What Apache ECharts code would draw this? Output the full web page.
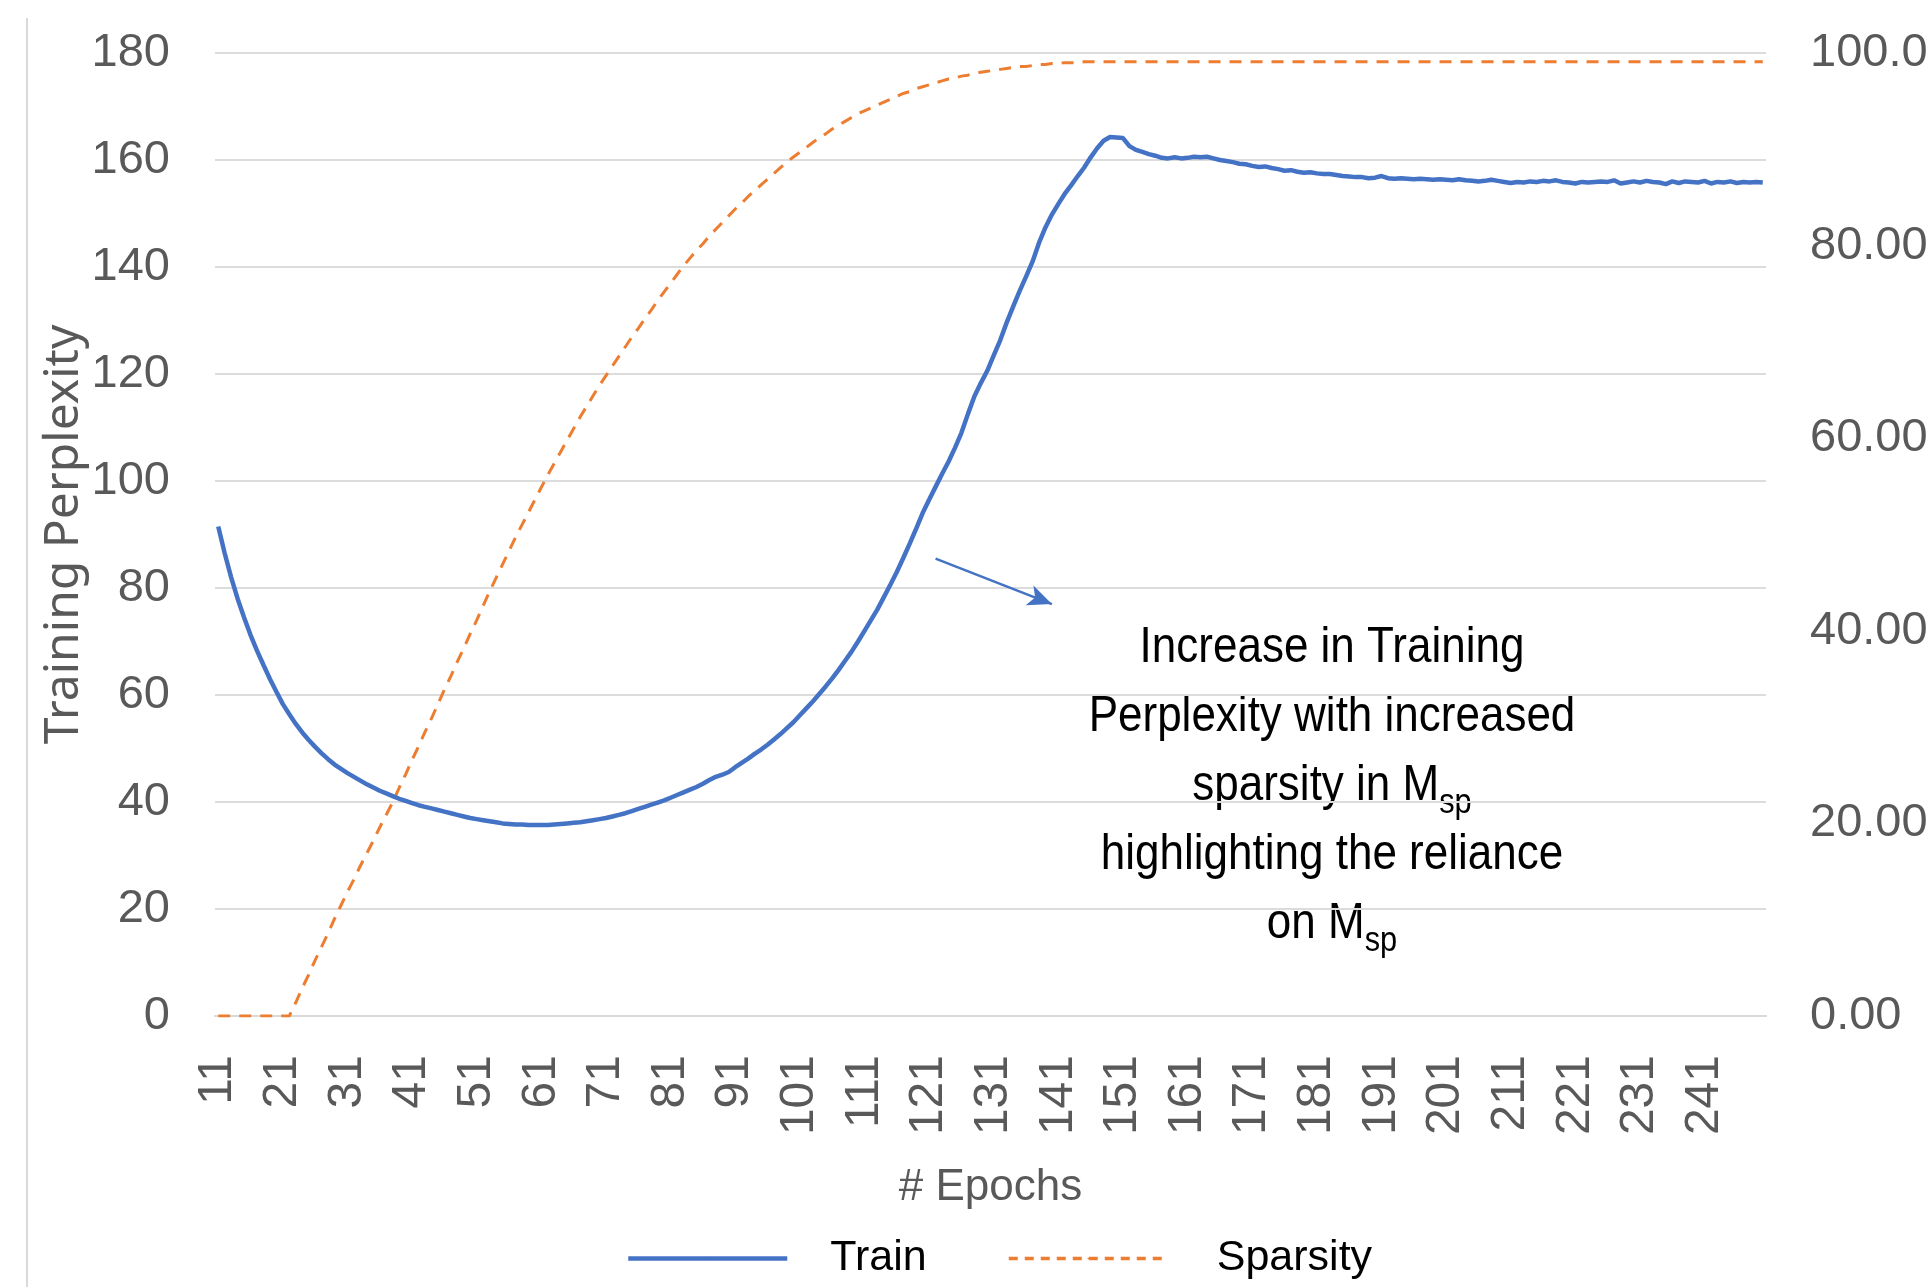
<!DOCTYPE html>
<html>
<head>
<meta charset="utf-8">
<script src="https://cdn.jsdelivr.net/npm/echarts@6/dist/echarts.min.js"></script>
<style>
html,body{margin:0;padding:0;background:#fff;overflow:hidden;}
#chart{width:1927px;height:1287px;}
</style>
</head>
<body>
<div id="chart"></div>
<script>
// Epochs 11..250 (one category per epoch)
const firstEpoch = 11;
const lastEpoch = 250;
const epochs = [];
for (let e = firstEpoch; e <= lastEpoch; e++) epochs.push(String(e));

// Training perplexity (left axis), epochs 11..250, rows of 10
const train = [
  91.5, 86.5, 82.0, 78.0, 74.5, 71.2, 68.3, 65.6, 63.0, 60.6,
  58.3, 56.4, 54.6, 53.0, 51.6, 50.3, 49.1, 48.0, 47.0, 46.2,
  45.4, 44.7, 44.0, 43.3, 42.7, 42.1, 41.6, 41.1, 40.6, 40.2,
  39.8, 39.4, 39.1, 38.8, 38.5, 38.2, 37.9, 37.6, 37.3, 37.0,
  36.8, 36.6, 36.4, 36.2, 36.0, 35.9, 35.8, 35.8, 35.7, 35.7,
  35.7, 35.7, 35.8, 35.9, 36.0, 36.1, 36.2, 36.4, 36.6, 36.8,
  37.0, 37.3, 37.6, 37.9, 38.3, 38.7, 39.1, 39.5, 39.9, 40.3,
  40.8, 41.3, 41.8, 42.3, 42.8, 43.4, 44.1, 44.7, 45.1, 45.6,
  46.5, 47.3, 48.1, 49.0, 49.8, 50.7, 51.7, 52.7, 53.8, 54.9,
  56.2, 57.5, 58.8, 60.2, 61.6, 63.1, 64.7, 66.4, 68.1, 70.0,
  72.0, 74.0, 76.0, 78.3, 80.6, 83.0, 85.6, 88.3, 91.1, 94.0,
  96.5, 98.9, 101.3, 103.6, 106.2, 109.0, 112.5, 115.8, 118.3, 120.6,
  123.5, 126.3, 129.6, 132.6, 135.5, 138.2, 141.0, 144.5, 147.4, 149.8,
  151.8, 153.7, 155.3, 157.0, 158.6, 160.5, 162.2, 163.6, 164.3, 164.2,
  164.1, 162.6, 161.9, 161.5, 161.1, 160.8, 160.4, 160.3, 160.5, 160.3,
  160.4, 160.6, 160.5, 160.6, 160.3, 160.0, 159.8, 159.6, 159.3, 159.2,
  158.9, 158.7, 158.8, 158.5, 158.3, 158.0, 158.1, 157.8, 157.6, 157.7,
  157.5, 157.4, 157.4, 157.2, 157.0, 156.9, 156.8, 156.8, 156.6, 156.7,
  157.0, 156.6, 156.5, 156.6, 156.5, 156.4, 156.5, 156.4, 156.3, 156.4,
  156.3, 156.2, 156.4, 156.2, 156.1, 156.0, 156.1, 156.3, 156.1, 155.9,
  155.7, 155.9, 155.8, 156.0, 155.9, 156.1, 156.0, 156.2, 155.9, 155.8,
  155.6, 155.9, 155.8, 155.9, 156.0, 155.9, 156.2, 155.6, 155.8, 156.0,
  155.8, 156.1, 155.9, 155.8, 155.5, 156.0, 155.7, 156.0, 155.9, 155.8,
  156.1, 155.6, 155.9, 155.8, 156.0, 155.7, 155.9, 155.8, 155.9, 155.8
];

// Sparsity (right axis, %), epochs 11..250, rows of 10
const sparsity = [
  0, 0, 0, 0, 0, 0, 0, 0, 0, 0,
  0, 0, 1.4, 2.9, 4.3, 5.8, 7.2, 8.6, 10.1, 11.5,
  12.9, 14.2, 15.6, 16.9, 18.2, 19.6, 20.9, 22.2, 23.7, 25.1,
  26.6, 28.0, 29.5, 30.9, 32.4, 33.9, 35.3, 36.8, 38.2, 39.7,
  41.1, 42.6, 44.1, 45.5, 46.9, 48.3, 49.7, 51.0, 52.3, 53.6,
  54.9, 56.2, 57.4, 58.6, 59.8, 61.0, 62.2, 63.3, 64.4, 65.5,
  66.5, 67.5, 68.5, 69.5, 70.5, 71.4, 72.4, 73.3, 74.3, 75.2,
  76.1, 77.0, 77.9, 78.7, 79.5, 80.2, 81.0, 81.7, 82.4, 83.1,
  83.8, 84.4, 85.1, 85.7, 86.3, 86.9, 87.5, 88.1, 88.7, 89.2,
  89.7, 90.2, 90.7, 91.2, 91.6, 92.1, 92.5, 92.9, 93.3, 93.7,
  94.0, 94.3, 94.6, 94.9, 95.2, 95.5, 95.8, 96.0, 96.3, 96.5,
  96.7, 96.9, 97.1, 97.3, 97.4, 97.6, 97.7, 97.9, 98.0, 98.1,
  98.2, 98.3, 98.4, 98.5, 98.6, 98.6, 98.7, 98.8, 98.8, 98.9,
  98.9, 99.0, 99.0, 99.0, 99.1, 99.1, 99.1, 99.1, 99.1, 99.1,
  99.1, 99.1, 99.1, 99.1, 99.1, 99.1, 99.1, 99.1, 99.1, 99.1,
  99.1, 99.1, 99.1, 99.1, 99.1, 99.1, 99.1, 99.1, 99.1, 99.1,
  99.1, 99.1, 99.1, 99.1, 99.1, 99.1, 99.1, 99.1, 99.1, 99.1,
  99.1, 99.1, 99.1, 99.1, 99.1, 99.1, 99.1, 99.1, 99.1, 99.1,
  99.1, 99.1, 99.1, 99.1, 99.1, 99.1, 99.1, 99.1, 99.1, 99.1,
  99.1, 99.1, 99.1, 99.1, 99.1, 99.1, 99.1, 99.1, 99.1, 99.1,
  99.1, 99.1, 99.1, 99.1, 99.1, 99.1, 99.1, 99.1, 99.1, 99.1,
  99.1, 99.1, 99.1, 99.1, 99.1, 99.1, 99.1, 99.1, 99.1, 99.1,
  99.1, 99.1, 99.1, 99.1, 99.1, 99.1, 99.1, 99.1, 99.1, 99.1,
  99.1, 99.1, 99.1, 99.1, 99.1, 99.1, 99.1, 99.1, 99.1, 99.1
];

const leftTicks = { min: 0, max: 180, interval: 20 };
const rightTicks = { min: 0, max: 100, interval: 20 };
const annotationLines = [
  'Increase in Training',
  'Perplexity with increased',
  'sparsity in M{sub|sp}',
  'highlighting the reliance',
  'on M{sub|sp}'
];
// arrow endpoints in data space [epoch, perplexity]
const arrowFrom = ['122', 85.5];
const arrowTo = ['140', 77.0];

const SANS = "'Liberation Sans', Arial, sans-serif";
const GRAY = '#595959';

const chart = echarts.init(document.getElementById('chart'), null, { renderer: 'canvas' });
chart.setOption({
  animation: false,
  backgroundColor: '#ffffff',
  grid: { left: 215, right: 161, top: 53, bottom: 271, containLabel: false, outerBoundsMode: 'none' },
  xAxis: {
    type: 'category',
    data: epochs,
    boundaryGap: true,
    name: '# Epochs',
    nameLocation: 'middle',
    nameGap: 150,
    nameMoveOverlap: false,
    nameTextStyle: { fontSize: 44, fontFamily: SANS, color: GRAY },
    axisLine: { show: true, lineStyle: { color: '#d9d9d9', width: 2 } },
    axisTick: { show: false },
    axisLabel: {
      interval: 9, rotate: 90, margin: 39,
      fontSize: 48, fontFamily: SANS, color: GRAY
    },
    splitLine: { show: false }
  },
  yAxis: [
    {
      type: 'value', min: leftTicks.min, max: leftTicks.max, interval: leftTicks.interval,
      name: 'Training Perplexity',
      nameLocation: 'middle', nameGap: 127, nameRotate: 90,
      nameMoveOverlap: false,
      nameTextStyle: { fontSize: 48, fontFamily: "'Noto Sans', " + SANS, color: GRAY },
      axisLine: { show: false }, axisTick: { show: false },
      axisLabel: { fontSize: 47, fontFamily: SANS, color: GRAY, margin: 45 },
      splitLine: { show: true, lineStyle: { color: '#dcdcdc', width: 2 } }
    },
    {
      type: 'value', min: rightTicks.min, max: rightTicks.max, interval: rightTicks.interval,
      position: 'right',
      axisLine: { show: false }, axisTick: { show: false },
      axisLabel: {
        fontSize: 47, fontFamily: SANS, color: GRAY, margin: 44,
        formatter: v => v.toFixed(2)
      },
      splitLine: { show: false }
    }
  ],
  legend: [
    {
      data: ['Train'], left: 621, top: 1232, itemWidth: 159, itemHeight: 2,
      lineStyle: { width: 4.5 },
      textStyle: { fontSize: 43, fontFamily: SANS, color: '#000', padding: [14, 0, 0, 38] }
    },
    {
      data: ['Sparsity'], left: 1002, top: 1232, itemWidth: 159, itemHeight: 2,
      lineStyle: { width: 3.5, type: [9, 7] },
      textStyle: { fontSize: 43, fontFamily: SANS, color: '#000', padding: [14, 0, 0, 44] }
    }
  ],
  series: [
    {
      name: 'Train', type: 'line', data: train, yAxisIndex: 0,
      showSymbol: false, symbol: 'none', smooth: false,
      lineStyle: { color: '#4472C4', width: 4.5 },
      itemStyle: { color: '#4472C4' },
      z: 3,
      markLine: {
        silent: true, animation: false,
        symbol: ['none', 'arrow'], symbolSize: [16, 24],
        label: { show: false },
        lineStyle: { color: '#4472C4', width: 2.5, type: 'solid' },
        data: [[{ coord: arrowFrom }, { coord: arrowTo }]]
      }
    },
    {
      name: 'Sparsity', type: 'line', data: sparsity, yAxisIndex: 1,
      showSymbol: false, symbol: 'none', smooth: false,
      lineStyle: { color: '#ED7D31', width: 3, type: [12, 9] },
      itemStyle: { color: '#ED7D31' },
      z: 2
    }
  ],
  graphic: [
    {
      type: 'line', silent: true,
      shape: { x1: 27, y1: 18, x2: 27, y2: 1287 },
      style: { stroke: '#d9d9d9', lineWidth: 2 }
    },
    {
      type: 'text', x: 1332, y: 614, scaleX: 0.88, silent: true,
      style: {
        text: annotationLines.join('\n'),
        align: 'center', verticalAlign: 'top',
        fontSize: 50, fontFamily: SANS, fill: '#000', lineHeight: 69,
        rich: {
          sub: { fontSize: 35, fontFamily: SANS, fill: '#000', lineHeight: 35, verticalAlign: 'bottom' }
        }
      }
    }
  ]
});
</script>
</body>
</html>
